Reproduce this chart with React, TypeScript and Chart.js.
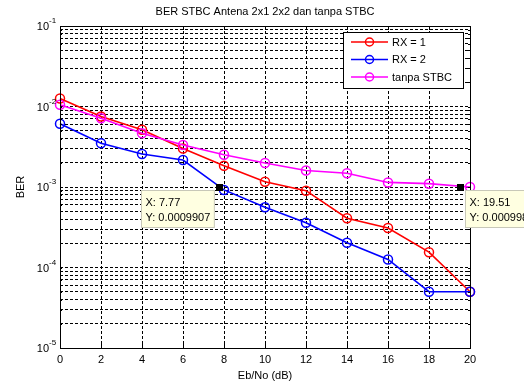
import React, { useEffect, useRef } from 'react';
import { Chart, registerables } from 'chart.js';

Chart.register(...registerables);

const titleText = 'BER STBC Antena 2x1 2x2 dan tanpa STBC';
const xTitle = 'Eb/No (dB)';
const yTitle = 'BER';

const snr = [0, 2, 4, 6, 8, 10, 12, 14, 16, 18, 20];
const berRx1 = [0.0126, 0.0075, 0.00515, 0.0030, 0.00184, 0.00116, 0.0009, 0.00041, 0.00031, 0.000155, 0.00005];
const berRx2 = [0.0061, 0.0035, 0.00257, 0.00216, 0.00092, 0.00056, 0.00036, 0.000203, 0.000126, 0.00005, 0.00005];
const berTanpa = [0.0105, 0.00714, 0.00465, 0.00333, 0.00252, 0.00199, 0.0016, 0.00148, 0.00114, 0.0011, 0.000998];

const seriesNames = ['RX = 1', 'RX = 2', 'tanpa STBC'];
const seriesColors = ['#ff0000', '#0000ff', '#ff00ff'];

const yDecades = [-5, -4, -3, -2, -1];
const xTicks = [0, 2, 4, 6, 8, 10, 12, 14, 16, 18, 20];

const tipX = [7.77, 19.51];
const tipY = [0.0009907, 0.000998];
const tipLabelX = ['X: 7.77', 'X: 19.51'];
const tipLabelY = ['Y: 0.0009907', 'Y: 0.000998'];
const tipSide = ['left', 'right'];

const FONT = '"Liberation Sans", Arial, Helvetica, sans-serif';

const matlabPlugin = {
  id: 'matlabDecor',
  afterDraw(chart: any) {
    const { ctx, chartArea: a, scales } = chart;
    const xs = scales.x;
    const ys = scales.y;
    ctx.save();

    // frame
    ctx.strokeStyle = '#000';
    ctx.lineWidth = 1;
    ctx.setLineDash([]);
    ctx.strokeRect(Math.round(a.left) + 0.5, Math.round(a.top) + 0.5, Math.round(a.right - a.left), Math.round(a.bottom - a.top));

    // inner tick marks
    ctx.beginPath();
    xTicks.forEach((v) => {
      const px = Math.round(xs.getPixelForValue(v)) + 0.5;
      ctx.moveTo(px, a.bottom);
      ctx.lineTo(px, a.bottom - 4);
      ctx.moveTo(px, a.top);
      ctx.lineTo(px, a.top + 4);
    });
    ys.ticks.forEach((t: any) => {
      const py = Math.round(ys.getPixelForValue(t.value)) + 0.5;
      const len = Number.isInteger(Math.log10(t.value) + 1e-9) ? 4 : 2;
      ctx.moveTo(a.left, py);
      ctx.lineTo(a.left + len, py);
      ctx.moveTo(a.right, py);
      ctx.lineTo(a.right - len, py);
    });
    ctx.stroke();

    // title
    ctx.fillStyle = '#000';
    ctx.font = '11px ' + FONT;
    ctx.textAlign = 'center';
    ctx.textBaseline = 'middle';
    ctx.fillText(titleText, (a.left + a.right) / 2, 12);

    // y tick labels 10^e
    yDecades.forEach((e) => {
      const py = ys.getPixelForValue(Math.pow(10, e));
      ctx.font = '11px ' + FONT;
      ctx.textAlign = 'right';
      ctx.textBaseline = 'middle';
      ctx.fillText('10', a.left - 11, py + 1);
      ctx.font = '8px ' + FONT;
      ctx.textAlign = 'left';
      ctx.fillText(String(e), a.left - 11, py - 5);
    });

    // legend
    const lx = 343.5, ly = 32.5, lw = 120, lh = 56;
    ctx.fillStyle = '#fff';
    ctx.fillRect(lx, ly, lw, lh);
    ctx.strokeStyle = '#000';
    ctx.lineWidth = 1;
    ctx.strokeRect(lx, ly, lw, lh);
    seriesNames.forEach((name, i) => {
      const yy = 42 + i * 17.5;
      ctx.strokeStyle = seriesColors[i];
      ctx.lineWidth = 1.5;
      ctx.beginPath();
      ctx.moveTo(351, yy);
      ctx.lineTo(388, yy);
      ctx.stroke();
      ctx.beginPath();
      ctx.arc(369.5, yy, 4, 0, Math.PI * 2);
      ctx.stroke();
      ctx.fillStyle = '#000';
      ctx.font = '11px ' + FONT;
      ctx.textAlign = 'left';
      ctx.textBaseline = 'middle';
      ctx.fillText(name, 392, yy + 0.5);
    });

    // data tips
    tipX.forEach((tx, i) => {
      const px = xs.getPixelForValue(tx);
      const py = ys.getPixelForValue(tipY[i]);
      ctx.font = '11px ' + FONT;
      const w = Math.max(ctx.measureText(tipLabelX[i]).width, ctx.measureText(tipLabelY[i]).width) + 8;
      const h = 37;
      const bx = Math.round(tipSide[i] === 'left' ? px - 5 - w : px + 5) + 0.5;
      const by = Math.round(py + 3) + 0.5;
      ctx.fillStyle = '#ffffe1';
      ctx.fillRect(bx, by, w, h);
      ctx.strokeStyle = '#c8c8b8';
      ctx.lineWidth = 1;
      ctx.strokeRect(bx, by, w, h);
      ctx.fillStyle = '#000';
      ctx.textAlign = 'left';
      ctx.textBaseline = 'middle';
      ctx.fillText(tipLabelX[i], bx + 4, by + 12);
      ctx.fillText(tipLabelY[i], bx + 4, by + 27);
      ctx.fillRect(Math.round(px) - 3, Math.round(py) - 3, 7, 7);
    });

    ctx.restore();
  },
};

export default function App() {
  const ref = useRef<HTMLCanvasElement | null>(null);

  useEffect(() => {
    if (!ref.current) return;
    const series = [berRx1, berRx2, berTanpa];
    const chart = new Chart(ref.current, {
      type: 'line',
      data: {
        datasets: series.map((vals, i) => ({
          label: seriesNames[i],
          data: snr.map((x, j) => ({ x, y: vals[j] })),
          borderColor: seriesColors[i],
          backgroundColor: 'rgba(0,0,0,0)',
          pointBorderColor: seriesColors[i],
          pointBackgroundColor: 'rgba(0,0,0,0)',
          borderWidth: 1.6,
          pointRadius: 4.5,
          pointBorderWidth: 1.5,
          tension: 0,
          fill: false,
          clip: 10,
          order: 3 - i,
        })),
      },
      options: {
        responsive: false,
        animation: false,
        devicePixelRatio: 1,
        layout: { padding: { left: 0, top: 26, right: 54, bottom: 0 } },
        plugins: {
          legend: { display: false },
          tooltip: { enabled: false },
          title: { display: false },
        },
        scales: {
          x: {
            type: 'linear',
            min: 0,
            max: 20,
            afterBuildTicks: (s: any) => {
              s.ticks = xTicks.map((v) => ({ value: v }));
            },
            afterFit: (s: any) => {
              s.height = 35;
            },
            ticks: {
              color: '#000',
              font: { family: FONT, size: 11 },
              padding: 5,
              autoSkip: false,
              maxRotation: 0,
            },
            grid: { color: '#000', lineWidth: 1, drawTicks: false },
            border: { display: false, dash: [3, 2] },
            title: {
              display: true,
              text: xTitle,
              color: '#000',
              font: { family: FONT, size: 11 },
              padding: { top: 0, bottom: 0 },
            },
          },
          y: {
            type: 'logarithmic',
            min: 1e-5,
            max: 1e-1,
            afterBuildTicks: (s: any) => {
              const t: any[] = [];
              yDecades.forEach((e) => {
                for (let m = 1; m <= 9; m++) {
                  if (e === -1 && m > 1) break;
                  t.push({ value: m * Math.pow(10, e) });
                }
              });
              s.ticks = t;
            },
            afterFit: (s: any) => {
              s.width = 60;
            },
            ticks: {
              display: true,
              autoSkip: false,
              callback: () => '',
              font: { family: FONT, size: 11 },
            },
            grid: { color: '#000', lineWidth: 1, drawTicks: false },
            border: { display: false, dash: [3, 2] },
            title: {
              display: true,
              text: yTitle,
              color: '#000',
              font: { family: FONT, size: 11 },
              padding: { top: 14, bottom: 0 },
            },
          },
        },
      },
      plugins: [matlabPlugin],
    } as any);
    return () => chart.destroy();
  }, []);

  return (
    <div style={{ position: 'fixed', left: 0, top: 0, width: 524, height: 383, background: '#fff' }}>
      <canvas ref={ref} width={524} height={383} style={{ display: 'block', width: 524, height: 383 }} />
    </div>
  );
}
